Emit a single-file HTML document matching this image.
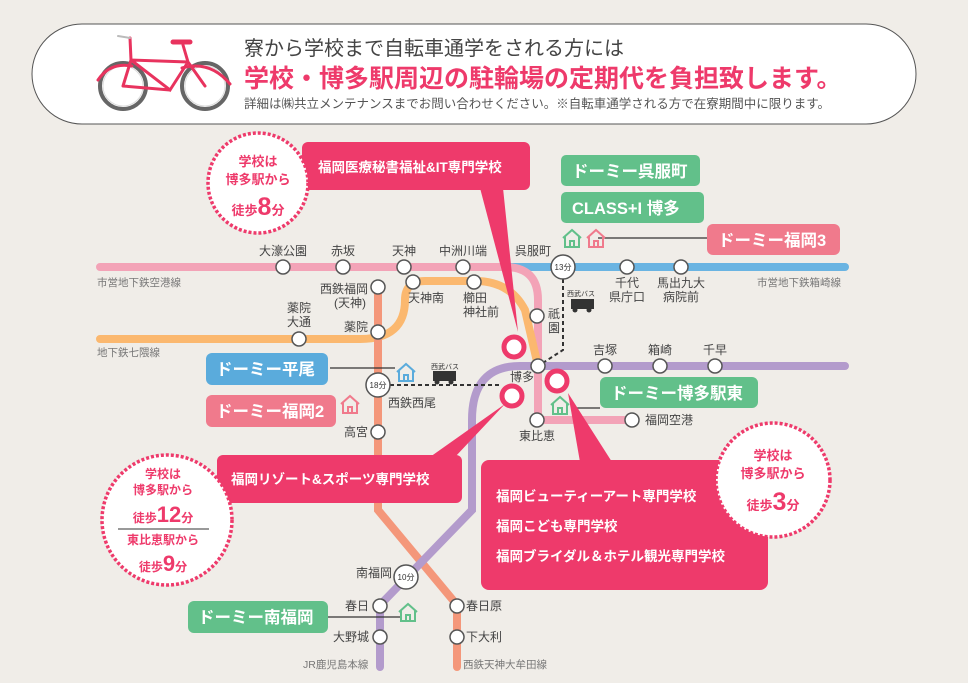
<!DOCTYPE html>
<html><head><meta charset="utf-8"><style>
body{margin:0;background:#f0ede8;}
svg{display:block}
text{font-family:"Liberation Sans","Noto Sans CJK JP",sans-serif;}
</style></head><body>
<svg width="968" height="683" viewBox="0 0 968 683" xmlns="http://www.w3.org/2000/svg">
<rect width="968" height="683" fill="#f0ede8"/>
<!-- header -->
<rect x="32" y="24" width="884" height="100" rx="50" fill="#fff" stroke="#555" stroke-width="1"/>
<g fill="none" stroke-linecap="round">
<circle cx="123" cy="86" r="23" stroke="#666" stroke-width="4"/>
<circle cx="123" cy="86" r="20" stroke="#ddd" stroke-width="1"/>
<circle cx="205" cy="86" r="23" stroke="#666" stroke-width="4"/>
<circle cx="205" cy="86" r="20" stroke="#ddd" stroke-width="1"/>
<path d="M123 86 L131 60 L188 62 L205 86 M131 60 L170 90 L188 62 M170 90 L123 86 M188 62 L183 45 M131 60 L130 38" stroke="#e8335e" stroke-width="3"/>
<path d="M173 42 L190 42" stroke="#e8335e" stroke-width="5"/>
<path d="M98 80 Q110 62 132 66 M182 68 Q210 60 230 84" stroke="#e8335e" stroke-width="3"/>
<path d="M130 38 L118 36" stroke="#bbb" stroke-width="2"/>
</g>
<text x="244" y="55" font-size="20" fill="#444">寮から学校まで自転車通学をされる方には</text>
<text x="244" y="87" font-size="25" font-weight="bold" fill="#ee3a6b">学校・博多駅周辺の駐輪場の定期代を負担致します。</text>
<text x="244" y="108" font-size="12.5" fill="#555">詳細は㈱共立メンテナンスまでお問い合わせください。※自転車通学される方で在寮期間中に限ります。</text>

<!-- lines -->
<g fill="none" stroke-linecap="round" stroke-width="8">
<path d="M493 267 L845 267" stroke="#6ab4e2"/>
<path d="M100 267 L505 267 Q538 267 538 300 L538 420 L632 420" stroke="#f3a3b7"/>
<path d="M100 339 L360 339 Q405 339 405 300 Q405 281 425 281 L475 281 Q510 281 525 310 L538 366" stroke="#fbb86f"/>
<path d="M378 285 L378 510 L457 605 L457 667" stroke="#f4977a"/>
<path d="M845 366 L520 366 Q472 366 472 420 L472 510 L380 605 L380 667" stroke="#b39bcc"/>
</g>
<g stroke="#333" stroke-width="2" stroke-dasharray="4,3" fill="none">
<path d="M563 279 L563 350 L538 366"/>
<path d="M390 385 L500 385"/>
</g>
<path d="M330 368 L395 368" stroke="#333" stroke-width="1.2"/>
<path d="M598 238 L710 238" stroke="#333" stroke-width="1.2"/>
<path d="M573 408 L600 408" stroke="#333" stroke-width="1.2"/>
<path d="M328 617 L400 617" stroke="#333" stroke-width="1.2"/>
<g fill="#333"><rect x="433" y="371" width="23" height="10"/><circle cx="437" cy="382" r="2.5"/><circle cx="451" cy="382" r="2.5"/>
<rect x="571" y="299" width="23" height="10"/><circle cx="575" cy="310" r="2.5"/><circle cx="589" cy="310" r="2.5"/></g>
<g font-size="7" fill="#333"><text x="431" y="369">西武バス</text><text x="567" y="296">西武バス</text></g>

<g fill="#fff" stroke="#555" stroke-width="1.5">
<circle cx="283" cy="267" r="7"/><circle cx="343" cy="267" r="7"/><circle cx="404" cy="267" r="7"/><circle cx="463" cy="267" r="7"/>
<circle cx="627" cy="267" r="7"/><circle cx="681" cy="267" r="7"/>
<circle cx="378" cy="287" r="7"/><circle cx="413" cy="282" r="7"/><circle cx="474" cy="282" r="7"/>
<circle cx="299" cy="339" r="7"/><circle cx="378" cy="332" r="7"/>
<circle cx="537" cy="316" r="7"/><circle cx="538" cy="366" r="7"/>
<circle cx="605" cy="366" r="7"/><circle cx="660" cy="366" r="7"/><circle cx="715" cy="366" r="7"/>
<circle cx="537" cy="420" r="7"/><circle cx="632" cy="420" r="7"/>
<circle cx="378" cy="432" r="7"/>
<circle cx="380" cy="606" r="7"/><circle cx="380" cy="637" r="7"/><circle cx="457" cy="606" r="7"/><circle cx="457" cy="637" r="7"/>
<circle cx="563" cy="267" r="12"/><circle cx="378" cy="385" r="12"/><circle cx="406" cy="577" r="12"/>
</g>
<g font-size="8" fill="#333" text-anchor="middle"><text x="563" y="270">13分</text><text x="378" y="388">18分</text><text x="406" y="580">10分</text></g>
<g fill="#fff" stroke="#ee3a6b" stroke-width="5"><circle cx="514" cy="347" r="10"/><circle cx="512" cy="396" r="10"/><circle cx="557" cy="381" r="10"/></g>

<g font-size="12" fill="#444">
<text x="283" y="255" text-anchor="middle">大濠公園</text><text x="343" y="255" text-anchor="middle">赤坂</text><text x="404" y="255" text-anchor="middle">天神</text><text x="463" y="255" text-anchor="middle">中洲川端</text><text x="533" y="255" text-anchor="middle">呉服町</text>
<text x="627" y="287" text-anchor="middle">千代</text><text x="627" y="301" text-anchor="middle">県庁口</text>
<text x="681" y="287" text-anchor="middle">馬出九大</text><text x="681" y="301" text-anchor="middle">病院前</text>
<text x="368" y="293" text-anchor="end">西鉄福岡</text><text x="366" y="307" text-anchor="end">(天神)</text>
<text x="408" y="302">天神南</text><text x="463" y="302">櫛田</text><text x="463" y="316">神社前</text>
<text x="299" y="312" text-anchor="middle">薬院</text><text x="299" y="326" text-anchor="middle">大通</text><text x="368" y="331" text-anchor="end">薬院</text>
<text x="548" y="318">祇</text><text x="548" y="332">園</text>
<text x="522" y="381" text-anchor="middle">博多</text>
<text x="605" y="354" text-anchor="middle">吉塚</text><text x="660" y="354" text-anchor="middle">箱崎</text><text x="715" y="354" text-anchor="middle">千早</text>
<text x="537" y="440" text-anchor="middle">東比恵</text><text x="645" y="424">福岡空港</text>
<text x="388" y="407">西鉄西尾</text><text x="368" y="436" text-anchor="end">高宮</text>
<text x="392" y="577" text-anchor="end">南福岡</text><text x="369" y="610" text-anchor="end">春日</text><text x="369" y="641" text-anchor="end">大野城</text>
<text x="466" y="610">春日原</text><text x="466" y="641">下大利</text>
</g>
<g font-size="10.5" fill="#777">
<text x="97" y="286">市営地下鉄空港線</text><text x="757" y="286">市営地下鉄箱崎線</text><text x="97" y="356">地下鉄七隈線</text>
<text x="303" y="668">JR鹿児島本線</text><text x="463" y="668">西鉄天神大牟田線</text>
</g>

<g fill="#ee3a6b">
<rect x="302" y="142" width="228" height="48" rx="6"/><path d="M480 188 L503 188 L518 332 Z"/>
<rect x="217" y="455" width="245" height="48" rx="6"/><path d="M430 457 L455 457 L505 404 Z"/>
<rect x="481" y="460" width="287" height="130" rx="8"/><path d="M580 462 L612 462 L568 393 Z"/>
</g>
<g font-size="13.5" font-weight="bold" fill="#fff">
<text x="318" y="172">福岡医療秘書福祉&amp;IT専門学校</text>
<text x="231" y="484">福岡リゾート&amp;スポーツ専門学校</text>
<text x="496" y="501">福岡ビューティーアート専門学校</text>
<text x="496" y="531">福岡こども専門学校</text>
<text x="496" y="561">福岡ブライダル＆ホテル観光専門学校</text>
</g>

<g>
<rect x="561" y="155" width="139" height="31" rx="5" fill="#62c08a"/>
<rect x="561" y="192" width="143" height="31" rx="5" fill="#62c08a"/>
<rect x="707" y="224" width="133" height="31" rx="6" fill="#f07a8c"/>
<rect x="206" y="353" width="122" height="32" rx="6" fill="#5aabdc"/>
<rect x="206" y="395" width="130" height="32" rx="6" fill="#f07a8c"/>
<rect x="600" y="377" width="158" height="31" rx="6" fill="#62c08a"/>
<rect x="188" y="601" width="140" height="32" rx="6" fill="#62c08a"/>
</g>
<g font-size="16.5" font-weight="bold" fill="#fff">
<text x="572" y="177">ドーミー呉服町</text>
<text x="572" y="214">CLASS+I 博多</text>
<text x="718" y="246">ドーミー福岡3</text>
<text x="216" y="375">ドーミー平尾</text>
<text x="216" y="417">ドーミー福岡2</text>
<text x="611" y="399">ドーミー博多駅東</text>
<text x="198" y="623">ドーミー南福岡</text>
</g>
<g fill="none" stroke-width="2">
<path d="M563 238 L572 230 L581 238 M565 236 L565 247 L579 247 L579 236 M570 247 L570 241 L574 241 L574 247" stroke="#62c08a"/>
<path d="M587 238 L596 230 L605 238 M589 236 L589 247 L603 247 L603 236 M594 247 L594 241 L598 241 L598 247" stroke="#f07a8c"/>
<path d="M397 372 L406 364 L415 372 M399 370 L399 381 L413 381 L413 370 M404 381 L404 375 L408 375 L408 381" stroke="#5aabdc"/>
<path d="M341 404 L350 396 L359 404 M343 402 L343 413 L357 413 L357 402 M348 413 L348 407 L352 407 L352 413" stroke="#f07a8c"/>
<path d="M551 405 L560 397 L569 405 M553 403 L553 414 L567 414 L567 403 M558 414 L558 408 L562 408 L562 414" stroke="#62c08a"/>
<path d="M399 612 L408 604 L417 612 M401 610 L401 621 L415 621 L415 610 M406 621 L406 615 L410 615 L410 621" stroke="#62c08a"/>
</g>

<g fill="#fff" stroke="#ee3a6b" stroke-width="3.5" stroke-dasharray="3,2">
<circle cx="258" cy="183" r="50"/><circle cx="167" cy="520" r="65"/><circle cx="773" cy="480" r="57"/>
</g>
<g fill="#ee3a6b" font-weight="bold" text-anchor="middle">
<text x="258" y="166" font-size="13">学校は</text><text x="258" y="184" font-size="13">博多駅から</text>
<text x="258" y="215" font-size="13">徒歩<tspan font-size="25">8</tspan>分</text>
<text x="163" y="478" font-size="12">学校は</text><text x="163" y="494" font-size="12">博多駅から</text>
<text x="163" y="522" font-size="12">徒歩<tspan font-size="22">12</tspan>分</text>
<text x="163" y="544" font-size="12">東比恵駅から</text>
<text x="163" y="571" font-size="12">徒歩<tspan font-size="22">9</tspan>分</text>
<text x="773" y="460" font-size="13">学校は</text><text x="773" y="478" font-size="13">博多駅から</text>
<text x="773" y="510" font-size="13">徒歩<tspan font-size="25">3</tspan>分</text>
</g>
<path d="M118 529 L209 529" stroke="#333" stroke-width="1"/>
</svg>
</body></html>
